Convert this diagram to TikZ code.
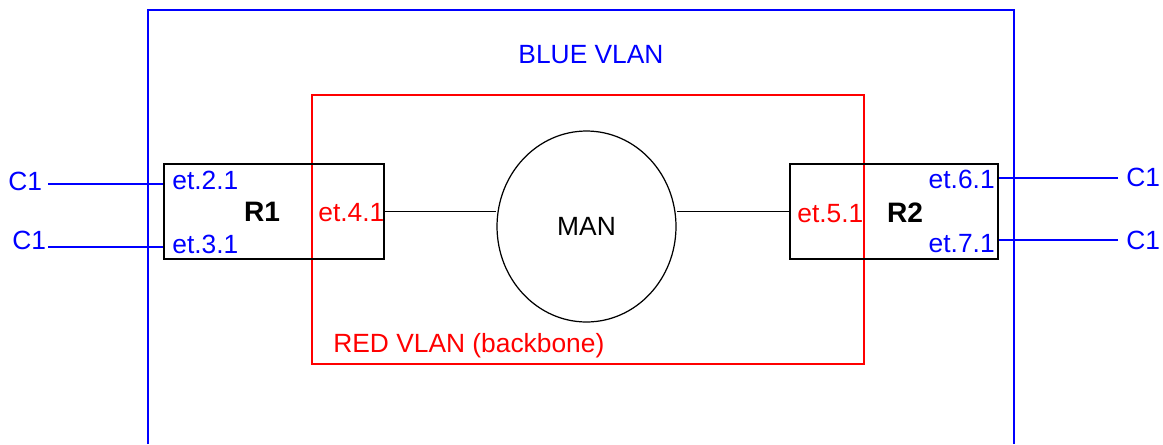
\documentclass[tikz,border=0pt]{standalone}
\usepackage{fontspec}
\setmainfont{Liberation Sans}
\usepackage{xcolor}
\usepackage{tikz}
\usetikzlibrary{shapes.geometric}
\definecolor{cBlue}{HTML}{0000FF}
\definecolor{cRed}{HTML}{FF0000}
\definecolor{cInk}{HTML}{000000}

\begin{document}
\begin{tikzpicture}[
  x=0.02cm, y=-0.02cm,
  every node/.style={font=\fontsize{15}{18}\selectfont, inner sep=0pt},
  router/.style={draw=cInk, line width=1.1pt, minimum height=1.9cm},
  rname/.style={font=\fontsize{16}{19}\selectfont\bfseries, anchor=base},
  port/.style={text=cBlue},
  trunk/.style={text=cRed},
  wire/.style={draw=cBlue, line width=1pt},
  link/.style={draw=cInk, line width=1pt},
]
\useasboundingbox (0,0) rectangle (1163,444);

% ─── VLANS ───
\draw[cBlue, line width=1.1pt] (148,444) -- (148,10) -- (1014,10) -- (1014,444);
\node[text=cBlue, anchor=base] (bluevlan) at (591,63) {BLUE VLAN};
\draw[cRed, line width=1.1pt] (312,95) rectangle (864,364);
\node[text=cRed, anchor=base west] (redvlan) at (333,352) {RED VLAN (backbone)};

% ─── ROUTERS ───
\node[router, minimum width=4.4cm] (r1) at (274,211.5) {};
\node[router, minimum width=4.16cm] (r2) at (894,211.5) {};
\node[rname] (r1name) at (262,221) {R1};
\node[rname] (r2name) at (905,222) {R2};

% ─── PORTS ───
\node[port, anchor=base west] (et21) at (172,189) {et.2.1};
\node[port, anchor=base west] (et31) at (172,253) {et.3.1};
\node[trunk, anchor=base west] (et41) at (318,221) {et.4.1};
\node[trunk, anchor=base west] (et51) at (797,222) {et.5.1};
\node[port, anchor=base east] (et61) at (995,188) {et.6.1};
\node[port, anchor=base east] (et71) at (995,252) {et.7.1};

% ─── MAN ───
\node[ellipse, draw=cInk, line width=0.7pt, minimum width=3.58cm, minimum height=3.82cm] (man) at (586.5,226.5) {MAN};
\draw[link] (r1.east) -- (r1.east -| man.west);
\draw[link] (r2.west) -- (r2.west -| man.east);

% ─── CLIENTS ───
\node[port, anchor=base west] (c1a) at (8,190) {C1};
\node[port, anchor=base west] (c1b) at (12,249) {C1};
\node[port, anchor=base west] (c1c) at (1126,186) {C1};
\node[port, anchor=base west] (c1d) at (1126,249) {C1};
\coordinate (w1) at (48,184);
\coordinate (w2) at (48,247);
\coordinate (w3) at (1118,178);
\coordinate (w4) at (1118,240);
\draw[wire] (w1) -- (w1 -| r1.west);
\draw[wire] (w2) -- (w2 -| r1.west);
\draw[wire] (w3) -- (w3 -| r2.east);
\draw[wire] (w4) -- (w4 -| r2.east);

\end{tikzpicture}
\end{document}
